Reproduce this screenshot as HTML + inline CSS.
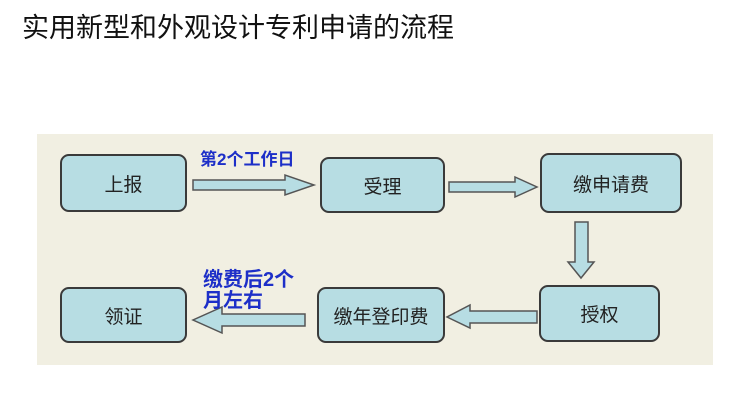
<!DOCTYPE html>
<html><head><meta charset="utf-8"><style>
body{margin:0;width:732px;height:400px;background:#fff;position:relative;overflow:hidden;font-family:"Liberation Sans","Noto Sans CJK SC",sans-serif}
.t{position:absolute;left:22px;top:6px;font-size:27px;color:#111}
.p{position:absolute;left:37px;top:134px;width:676px;height:231px;background:#f1efe2}
.b{position:absolute;background:#b7dde3;border:2px solid #3a3a3a;border-radius:9px;box-sizing:border-box;display:flex;align-items:center;justify-content:center;font-size:19px;color:#222}
.l{position:absolute;color:#1d2fc8;font-weight:bold;font-size:20px;line-height:21px}
</style></head><body>
<div class="t">实用新型和外观设计专利申请的流程</div>
<div class="p"></div>
<div class="b" style="left:60px;top:154px;width:127px;height:58px">上报</div>
<div class="b" style="left:320px;top:157px;width:125px;height:56px">受理</div>
<div class="b" style="left:540px;top:153px;width:142px;height:60px">缴申请费</div>
<div class="b" style="left:539px;top:285px;width:121px;height:57px">授权</div>
<div class="b" style="left:317px;top:287px;width:128px;height:56px">缴年登印费</div>
<div class="b" style="left:60px;top:287px;width:127px;height:56px">领证</div>
<svg width="732" height="400" style="position:absolute;left:0;top:0">
<g fill="#b7dde3" stroke="#555" stroke-width="1.5">
<polygon points="193,180 285,180 285,175 314,185 285,195 285,190 193,190"/>
<polygon points="449,182 515,182 515,177 537,187 515,197 515,192 449,192"/>
<polygon points="575,222 588,222 588,262 594,262 581,278 568,262 575,262"/>
<polygon points="537,311 470,311 470,305 447,317 470,328 470,323 537,323"/>
<polygon points="305,314 222,314 222,307 193,320 222,333 222,326 305,326"/>
</g></svg>
<div class="l" style="left:200px;top:149px;font-size:17px">第2个工作日</div>
<div class="l" style="left:203px;top:270px">缴费后2个<br>月左右</div>
</body></html>
